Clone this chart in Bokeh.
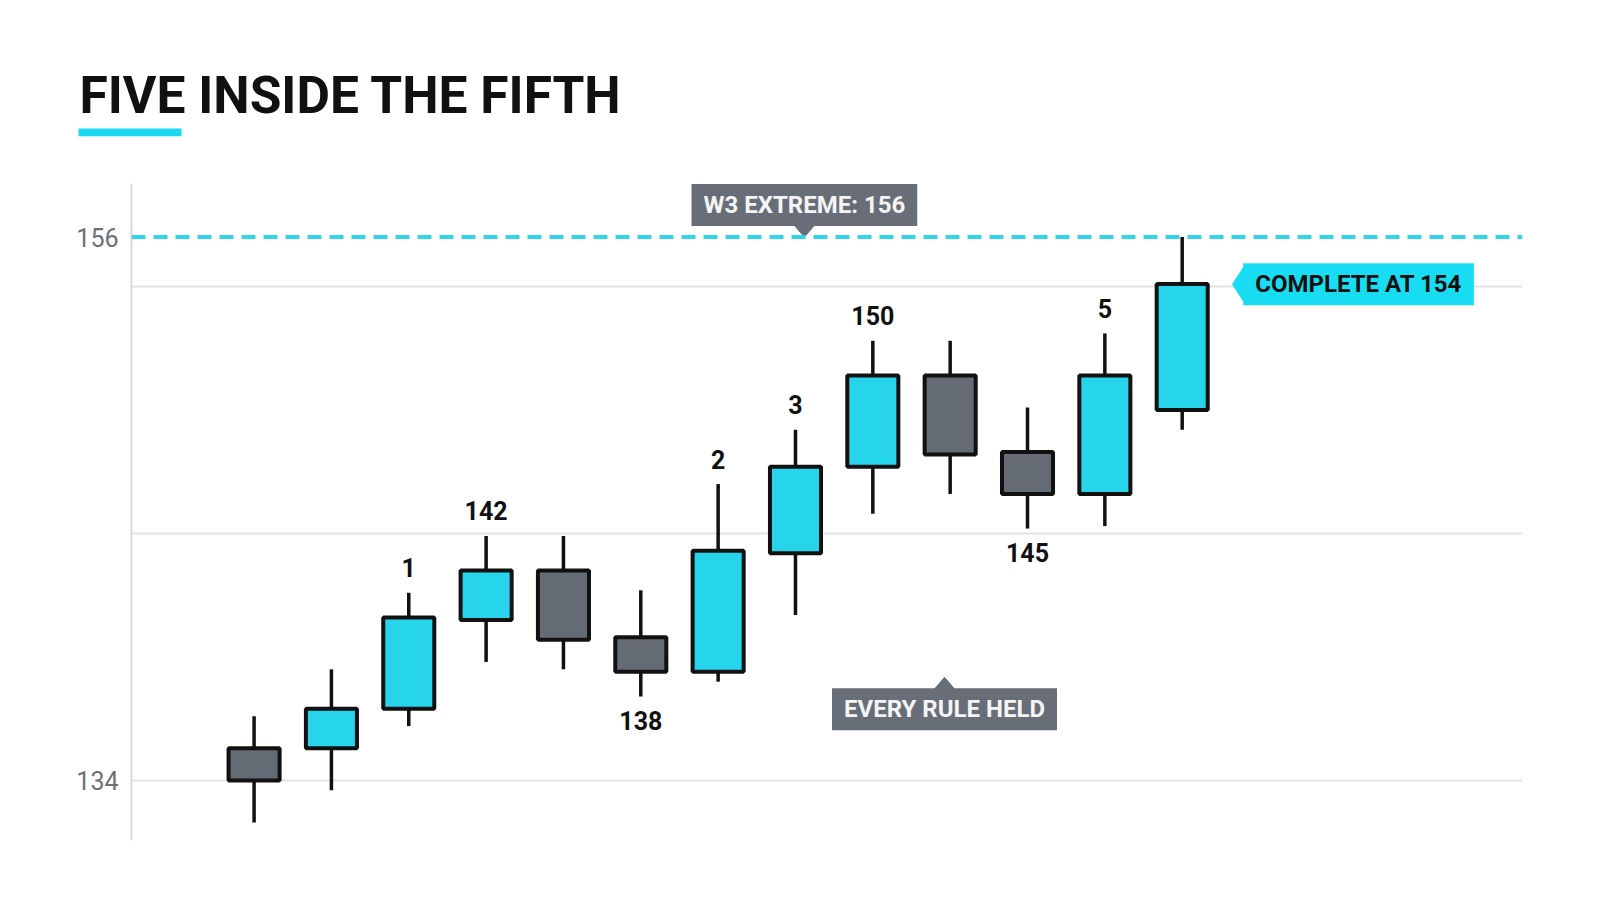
from bokeh.plotting import figure
from bokeh.layouts import column
from bokeh.models import Span, Label, BoxAnnotation, FixedTicker, ColumnDataSource
from bokeh.core.properties import value
from bokeh.embed import file_html
from bokeh.resources import INLINE

# candles
candle = list(range(13))
opens = [135.3, 135.3, 136.9, 140.5, 142.5, 139.8, 138.4, 143.2, 146.7, 150.4, 147.3, 145.6, 149.0]
highs = [136.6, 138.5, 141.6, 143.9, 143.9, 141.7, 146.0, 148.2, 151.8, 151.8, 149.1, 152.1, 156.0]
lows = [132.3, 133.6, 136.2, 138.8, 138.5, 137.4, 138.0, 140.7, 144.8, 145.6, 144.2, 144.3, 148.2]
closes = [134.0, 136.9, 140.6, 142.5, 139.7, 138.4, 143.3, 146.7, 150.4, 147.2, 145.6, 150.4, 154.1]

# wave count labels
wave_candle = [2, 3, 5, 6, 7, 8, 10, 11]
wave_text = ["1", "142", "138", "2", "3", "150", "145", "5"]
wave_side = ["above", "above", "below", "above", "above", "above", "below", "above"]

w3_extreme = 156
complete_at = 154
axis_ticks = [134, 156]
grid_levels = [134, 144, 154]

CYAN = "#26d4ec"
GREY = "#656b75"
TAG_GREY = "#686e78"
TAG_CYAN = "#18dcf2"
INK = "#111111"
FONT = "Roboto"

W = 1584
HEAD_H = 178
H = 898 - HEAD_H
LEFT, RIGHT, TOP, BOTTOM = 131, 62, 5, 58
X0, X1 = -1.585, 16.40
Y0, Y1 = 131.57, 158.17
fw, fh = W - LEFT - RIGHT, H - TOP - BOTTOM
ppx = fw / (X1 - X0)
ppy = fh / (Y1 - Y0)

# header: title and its cyan underline
head = figure(width=W, height=HEAD_H, title=None, output_backend="svg",
              toolbar_location=None, min_border=0, x_range=(0, 1), y_range=(0, 1))
head.frame_align = False
head.axis.visible = False
head.grid.visible = False
head.outline_line_color = None
head.add_layout(Label(x=79, y=HEAD_H - 112 + 17, x_units="screen", y_units="screen",
                      text="FIVE INSIDE THE FIFTH", text_font=FONT, text_font_style="bold",
                      text_font_size="51.5px", text_color=INK, text_baseline="alphabetic"))
head.add_layout(BoxAnnotation(left=78, right=181, bottom=HEAD_H - 135.7, top=HEAD_H - 128,
                              left_units="screen", right_units="screen",
                              bottom_units="screen", top_units="screen",
                              fill_color="#1ad8f0", fill_alpha=1, line_color=None))

p = figure(width=W, height=H, x_range=(X0, X1), y_range=(Y0, Y1), title=None,
           output_backend="svg", toolbar_location=None,
           min_border_left=LEFT, min_border_right=RIGHT,
           min_border_top=TOP, min_border_bottom=BOTTOM)
p.frame_align = False
p.outline_line_color = None
p.xaxis.visible = False
p.xgrid.grid_line_color = None
p.ygrid.ticker = FixedTicker(ticks=grid_levels)
p.ygrid.grid_line_color = "#e3e3e3"
p.ygrid.grid_line_width = 2

p.yaxis.ticker = FixedTicker(ticks=axis_ticks)
p.yaxis.major_tick_line_color = None
p.yaxis.minor_tick_line_color = None
p.yaxis.axis_line_color = "#dadada"
p.yaxis.axis_line_width = 2
p.yaxis.major_label_text_font = FONT
p.yaxis.major_label_text_font_size = "25px"
p.yaxis.major_label_text_color = "#6b7079"
p.yaxis.major_label_standoff = 7

# W3 extreme dashed level
p.add_layout(Span(location=w3_extreme, dimension="width", line_color="#2fd6ea",
                  line_width=4, line_dash="14 8"))

src = ColumnDataSource(dict(
    x=candle, o=opens, h=highs, l=lows, c=closes,
    top=[max(a, b) for a, b in zip(opens, closes)],
    bot=[min(a, b) for a, b in zip(opens, closes)],
    color=[CYAN if c >= o else GREY for o, c in zip(opens, closes)],
))
p.segment("x", "h", "x", "l", source=src, line_color=INK, line_width=3.5)
p.vbar(x="x", width=0.66, top="top", bottom="bot", source=src,
       fill_color="color", line_color=INK, line_width=4)

above = [i for i, s in enumerate(wave_side) if s == "above"]
below = [i for i, s in enumerate(wave_side) if s == "below"]
p.text(x=[wave_candle[i] for i in above], y=[highs[wave_candle[i]] for i in above],
       text=[wave_text[i] for i in above], text_align="center", text_baseline="alphabetic",
       y_offset=-25, text_font=value(FONT), text_font_style="bold",
       text_font_size="25px", text_color=INK)
p.text(x=[wave_candle[i] for i in below], y=[lows[wave_candle[i]] for i in below],
       text=[wave_text[i] for i in below], text_align="center", text_baseline="top",
       y_offset=14, text_font=value(FONT), text_font_style="bold",
       text_font_size="25px", text_color=INK)


def tag(x, y, text, fill, color):
    p.add_layout(Label(x=x, y=y, text=text, text_align="center", text_baseline="middle",
                       text_font=FONT, text_font_style="bold", text_font_size="24px",
                       text_color=color, background_fill_color=fill,
                       padding=(12, 7)))


w3_x, w3_y = 7.115, 157.30
rule_x, rule_y = 8.927, 136.88
done_x, done_y = 14.28, 154.09

tag(w3_x, w3_y, "W3 EXTREME: 156", TAG_GREY, "#f4f4f4")
tag(rule_x, rule_y, "EVERY RULE HELD", TAG_GREY, "#f4f4f4")
tag(done_x, done_y, "COMPLETE AT 154", TAG_CYAN, INK)

# pointers of the tags
tips = dict(
    xs=[[w3_x - 12 / ppx, w3_x, w3_x + 12 / ppx],
        [rule_x - 12 / ppx, rule_x, rule_x + 12 / ppx],
        [done_x - 113 / ppx, done_x - 126 / ppx, done_x - 113 / ppx]],
    ys=[[w3_extreme + 14 / ppy, w3_extreme, w3_extreme + 14 / ppy],
        [rule_y + 18 / ppy, rule_y + 32 / ppy, rule_y + 18 / ppy],
        [done_y + 20 / ppy, done_y, done_y - 20 / ppy]],
    c=[TAG_GREY, TAG_GREY, TAG_CYAN],
)
p.patches("xs", "ys", source=ColumnDataSource(tips), fill_color="c", line_color="c")

open("out.html", "w").write(file_html(column(head, p), INLINE))
